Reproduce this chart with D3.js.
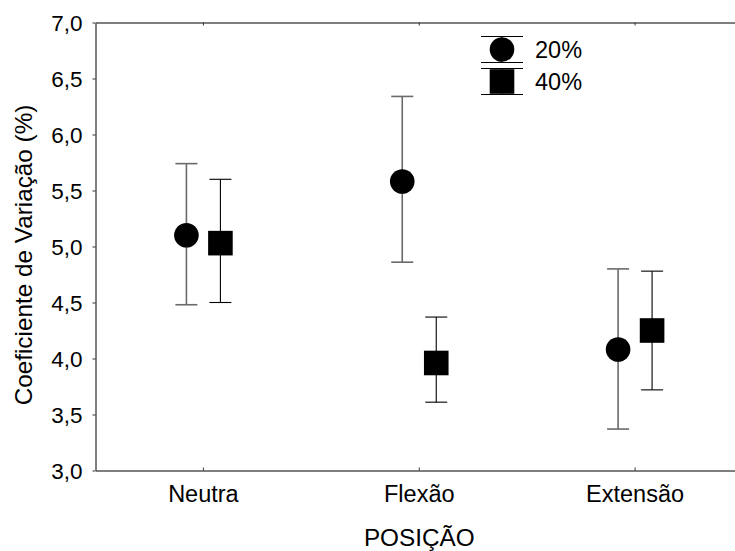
<!DOCTYPE html>
<html>
<head>
<meta charset="utf-8">
<script src="https://cdn.jsdelivr.net/npm/d3@7"></script>
<style>
html,body{margin:0;padding:0;background:#fff;}
svg{display:block;}
text{font-family:"Liberation Sans",Arial,sans-serif;fill:#000;}
</style>
</head>
<body>
<script>
const categories = ["Neutra", "Flexão", "Extensão"];
const seriesNames = ["20%", "40%"];
const mean20 = [5.10, 5.58, 4.08];
const upper20 = [5.74, 6.34, 4.80];
const lower20 = [4.48, 4.86, 3.37];
const mean40 = [5.03, 3.96, 4.25];
const upper40 = [5.60, 4.37, 4.78];
const lower40 = [4.50, 3.61, 3.72];
const yTicks = [3.0, 3.5, 4.0, 4.5, 5.0, 5.5, 6.0, 6.5, 7.0];

(function () {
const W = 735, H = 551;
const svg = d3.select("body").append("svg").attr("width", W).attr("height", H);

const pLeft = 95.5, pTop = 22.5, pBottom = 470.5, pRight = 743;
const x = d3.scaleBand().domain(categories).range([pLeft, pRight]).padding(0);
const y = d3.scaleLinear().domain([3, 7]).range([pBottom, pTop]);
const fsTick = 22.5, fsCat = 23.5, fsTitle = 24.3;
const axisColor = "#555";
const ff = "'Liberation Sans', Arial, sans-serif";

// Y axis
const yAxis = svg.append("g").attr("transform", `translate(${pLeft},0)`)
  .call(d3.axisLeft(y).tickValues(yTicks).tickSize(3).tickSizeOuter(0)
    .tickFormat(d => d3.format(".1f")(d).replace(".", ",")));
yAxis.select(".domain").attr("stroke", axisColor).attr("stroke-width", 1.5);
yAxis.selectAll(".tick line").attr("stroke", "#333");
yAxis.selectAll(".tick text").attr("font-size", fsTick).attr("x", -13).attr("dy", "0.35em")
  .style("font-family", ff).attr("fill", "#000");

// X axes bottom and top (ticks inside)
const xb = svg.append("g").attr("transform", `translate(0,${pBottom})`)
  .call(d3.axisBottom(x).tickSize(-3).tickSizeOuter(0));
xb.select(".domain").attr("stroke", axisColor).attr("stroke-width", 1.5);
xb.selectAll(".tick line").attr("stroke", "#333");
xb.selectAll(".tick text").attr("font-size", fsCat).attr("y", 31).attr("dy", 0)
  .style("font-family", ff).attr("fill", "#000");

const xt = svg.append("g").attr("transform", `translate(0,${pTop})`)
  .call(d3.axisTop(x).tickSize(-3).tickSizeOuter(0).tickFormat(""));
xt.select(".domain").attr("stroke", axisColor).attr("stroke-width", 1.5);
xt.selectAll(".tick line").attr("stroke", "#333");

// Axis titles
svg.append("text").attr("x", x(categories[1]) + x.bandwidth() / 2).attr("y", 546)
  .attr("text-anchor", "middle").attr("font-size", fsTitle).text("POSIÇÃO");
svg.append("text").attr("transform", `translate(32,255) rotate(-90)`)
  .attr("text-anchor", "middle").attr("font-size", fsTitle).text("Coeficiente de Variação (%)");

const off = 17;
const cap = 11;
const cx = (c, s) => x(c) + x.bandwidth() / 2 + (s === 0 ? -off : off);

const series = [
  {mean: mean20, up: upper20, lo: lower20, stroke: "#6a6a6a", sw: 1.6},
  {mean: mean40, up: upper40, lo: lower40, stroke: "#000", sw: 1.1}
];

series.forEach((s, si) => {
  const g = svg.append("g");
  categories.forEach((c, i) => {
    const px = cx(c, si);
    g.append("line").attr("x1", px).attr("x2", px).attr("y1", y(s.up[i])).attr("y2", y(s.lo[i]))
      .attr("stroke", s.stroke).attr("stroke-width", s.sw);
    [s.up[i], s.lo[i]].forEach(v => {
      g.append("line").attr("x1", px - cap).attr("x2", px + cap).attr("y1", y(v)).attr("y2", y(v))
        .attr("stroke", s.stroke).attr("stroke-width", s.sw);
    });
    if (si === 0) {
      g.append("circle").attr("cx", px).attr("cy", y(s.mean[i])).attr("r", 12.3).attr("fill", "#000");
    } else {
      g.append("rect").attr("x", px - 12.3).attr("y", y(s.mean[i]) - 12.3)
        .attr("width", 24.6).attr("height", 24.6).attr("fill", "#000");
    }
  });
});

// Legend
const lg = svg.append("g");
const lx = 502, lys = [49.5, 81.5];
seriesNames.forEach((n, i) => {
  const ly = lys[i];
  lg.append("line").attr("x1", lx).attr("x2", lx).attr("y1", ly - 13).attr("y2", ly + 13)
    .attr("stroke", "#000").attr("stroke-width", 1);
  [ly - 13, ly + 13].forEach(v => {
    lg.append("line").attr("x1", lx - 21).attr("x2", lx + 21).attr("y1", v).attr("y2", v)
      .attr("stroke", "#000").attr("stroke-width", 1.2);
  });
  if (i === 0) lg.append("circle").attr("cx", lx).attr("cy", ly).attr("r", 12.3).attr("fill", "#000");
  else lg.append("rect").attr("x", lx - 12.3).attr("y", ly - 12.3).attr("width", 24.6).attr("height", 24.6).attr("fill", "#000");
  lg.append("text").attr("x", 535).attr("y", ly).attr("dy", "0.35em").attr("font-size", fsCat).text(n);
});
})();
</script>
</body>
</html>
